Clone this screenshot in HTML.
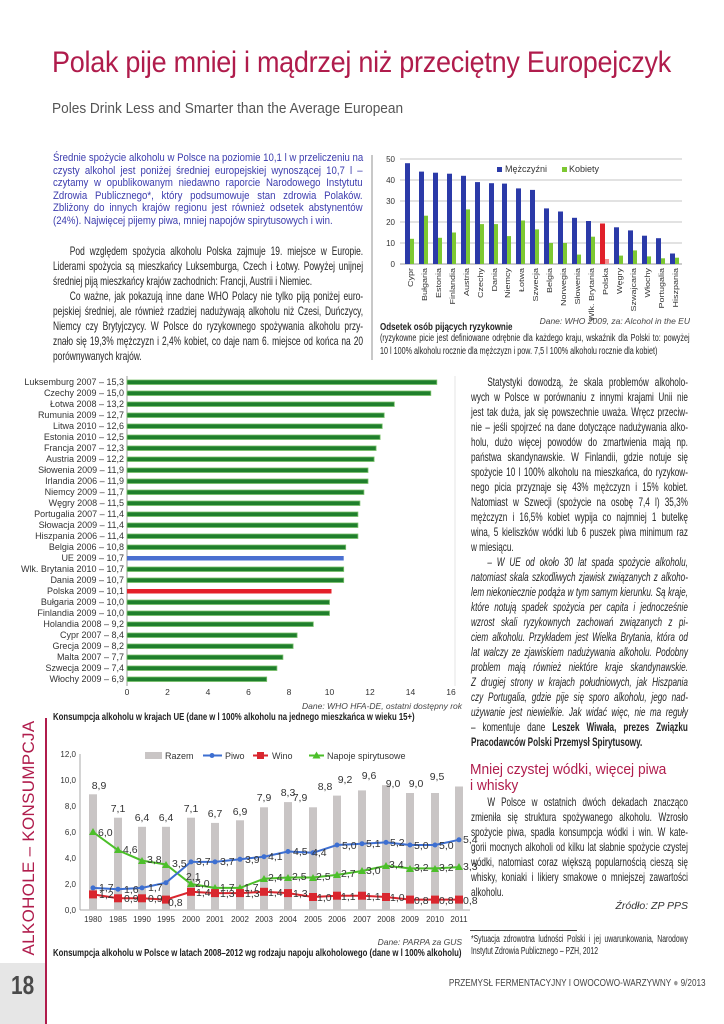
<!DOCTYPE html>
<html><head><meta charset="utf-8">
<style>
*{margin:0;padding:0}
body{width:724px;height:1024px;position:relative;background:#fff;overflow:hidden;font-family:"Liberation Sans",sans-serif}
.a{position:absolute}
.cb{position:absolute;transform-origin:0 0;transform:scaleX(.7);font:12px/15px "Liberation Sans",sans-serif;color:#252525}
.cb div{height:15px;text-align:justify;text-align-last:justify;white-space:nowrap}
.cb div.e{text-align-last:left}
.cb div.i{text-indent:24px}
.bl{position:absolute;transform-origin:0 0;transform:scaleX(.86);font:11.2px/12.6px "Liberation Sans",sans-serif;color:#3c3cae}
.bl div{height:12.6px;text-align:justify;text-align-last:justify;white-space:nowrap}
.bl div.e{text-align-last:left}
svg text{font-family:"Liberation Sans",sans-serif}
</style></head><body>

<div class="a" style="left:52px;top:46px;font-size:30px;color:#b01c4c;letter-spacing:-0.3px;white-space:nowrap;transform:scaleX(.9);transform-origin:0 0">Polak pije mniej i mądrzej niż przeciętny Europejczyk</div>
<div class="a" style="left:52px;top:100px;font-size:15px;color:#555;white-space:nowrap;transform:scaleX(.91);transform-origin:0 0">Poles Drink Less and Smarter than the Average European</div>

<div class="bl" style="left:53px;top:152px;width:360px">
<div>Średnie spożycie alkoholu w Polsce na poziomie 10,1 l w przeliczeniu na</div>
<div>czysty alkohol jest poniżej średniej europejskiej wynoszącej 10,7 l –</div>
<div>czytamy w opublikowanym niedawno raporcie Narodowego Instytutu</div>
<div>Zdrowia Publicznego*, który podsumowuje stan zdrowia Polaków.</div>
<div>Zbliżony do innych krajów regionu jest również odsetek abstynentów</div>
<div class="e">(24%). Najwięcej pijemy piwa, mniej napojów spirytusowych i win.</div>
</div>

<div class="cb" style="left:53px;top:244px;width:443px">
<div class="i">Pod względem spożycia alkoholu Polska zajmuje 19. miejsce w Europie.</div>
<div>Liderami spożycia są mieszkańcy Luksemburga, Czech i Łotwy. Powyżej unijnej</div>
<div class="e">średniej piją mieszkańcy krajów zachodnich: Francji, Austrii i Niemiec.</div>
<div class="i">Co ważne, jak pokazują inne dane WHO Polacy nie tylko piją poniżej euro-</div>
<div>pejskiej średniej, ale również rzadziej nadużywają alkoholu niż Czesi, Duńczycy,</div>
<div>Niemcy czy Brytyjczycy. W Polsce do ryzykownego spożywania alkoholu przy-</div>
<div>znało się 19,3% mężczyzn i 2,4% kobiet, co daje nam 6. miejsce od końca na 20</div>
<div class="e">porównywanych krajów.</div>
</div>

<div class="a" style="left:371px;top:155px;width:2px;height:205px;background:#c8c8c8"></div>

<div class="a" style="left:380px;top:322px;font:bold 10px 'Liberation Sans',sans-serif;transform:scaleX(.8);transform-origin:0 0;white-space:nowrap;color:#222">Odsetek osób pijących ryzykownie</div>
<div class="a" style="left:380px;top:316px;width:310px;text-align:right;font:italic 8.5px 'Liberation Sans',sans-serif;color:#444">Dane: WHO 2009, za: Alcohol in the EU</div>
<div class="cb" style="left:380px;top:333px;width:430px;font-size:10px;line-height:12.5px;transform:scaleX(.72)">
<div style="height:12.5px">(ryzykowne picie jest definiowane odrębnie dla każdego kraju, wskaźnik dla Polski to: powyżej</div>
<div class="e" style="height:12.5px">10 l 100% alkoholu rocznie dla mężczyzn i pow. 7,5 l 100% alkoholu rocznie dla kobiet)</div>
</div>

<div class="cb" style="left:471px;top:375px;width:319px;transform:scaleX(.68)">
<div class="i">Statystyki dowodzą, że skala problemów alkoholo-</div>
<div>wych w Polsce w porównaniu z innymi krajami Unii nie</div>
<div>jest tak duża, jak się powszechnie uważa. Wręcz przeciw-</div>
<div>nie – jeśli spojrzeć na dane dotyczące nadużywania alko-</div>
<div>holu, dużo więcej powodów do zmartwienia mają np.</div>
<div>państwa skandynawskie. W Finlandii, gdzie notuje się</div>
<div>spożycie 10 l 100% alkoholu na mieszkańca, do ryzykow-</div>
<div>nego picia przyznaje się 43% mężczyzn i 15% kobiet.</div>
<div>Natomiast w Szwecji (spożycie na osobę 7,4 l) 35,3%</div>
<div>mężczyzn i 16,5% kobiet wypija co najmniej 1 butelkę</div>
<div>wina, 5 kieliszków wódki lub 6 puszek piwa minimum raz</div>
<div class="e">w miesiącu.</div>
<div class="i" style="font-style:italic">– W UE od około 30 lat spada spożycie alkoholu,</div>
<div style="font-style:italic">natomiast skala szkodliwych zjawisk związanych z alkoho-</div>
<div style="font-style:italic">lem niekoniecznie podąża w tym samym kierunku. Są kraje,</div>
<div style="font-style:italic">które notują spadek spożycia per capita i jednocześnie</div>
<div style="font-style:italic">wzrost skali ryzykownych zachowań związanych z pi-</div>
<div style="font-style:italic">ciem alkoholu. Przykładem jest Wielka Brytania, która od</div>
<div style="font-style:italic">lat walczy ze zjawiskiem nadużywania alkoholu. Podobny</div>
<div style="font-style:italic">problem mają również niektóre kraje skandynawskie.</div>
<div style="font-style:italic">Z drugiej strony w krajach południowych, jak Hiszpania</div>
<div style="font-style:italic">czy Portugalia, gdzie pije się sporo alkoholu, jego nad-</div>
<div style="font-style:italic">używanie jest niewielkie. Jak widać więc, nie ma reguły</div>
<div>– komentuje dane <b>Leszek Wiwała, prezes Związku</b></div>
<div class="e"><b>Pracodawców Polski Przemysł Spirytusowy.</b></div>
</div>

<div class="a" style="left:470px;top:762px;font-size:15px;line-height:16px;color:#b01c4c;transform:scaleX(.92);transform-origin:0 0;white-space:nowrap">Mniej czystej wódki, więcej piwa<br>i whisky</div>

<div class="cb" style="left:471px;top:795px;width:319px;transform:scaleX(.68)">
<div class="i">W Polsce w ostatnich dwóch dekadach znacząco</div>
<div>zmieniła się struktura spożywanego alkoholu. Wzrosło</div>
<div>spożycie piwa, spadła konsumpcja wódki i win. W kate-</div>
<div>gorii mocnych alkoholi od kilku lat słabnie spożycie czystej</div>
<div>wódki, natomiast coraz większą popularnością cieszą się</div>
<div>whisky, koniaki i likiery smakowe o mniejszej zawartości</div>
<div class="e">alkoholu.</div>
</div>
<div class="a" style="left:470px;top:900px;width:218px;text-align:right;font:italic 10.5px 'Liberation Sans',sans-serif;color:#333">Źródło: ZP PPS</div>
<div class="a" style="left:470px;top:930px;width:107px;height:1px;background:#444"></div>
<div class="cb" style="left:471px;top:934px;width:319px;font-size:10px;line-height:12px;transform:scaleX(.68)">
<div style="height:12px">*Sytuacja zdrowotna ludności Polski i jej uwarunkowania, Narodowy</div>
<div class="e" style="height:12px">Instytut Zdrowia Publicznego – PZH, 2012</div>
</div>

<div class="a" style="left:300px;top:701px;width:162px;text-align:right;font:italic 8.5px 'Liberation Sans',sans-serif;color:#444;white-space:nowrap">Dane: WHO HFA-DE, ostatni dostępny rok</div>
<div class="a" style="left:53px;top:711px;font:bold 10.5px 'Liberation Sans',sans-serif;transform:scaleX(.74);transform-origin:0 0;white-space:nowrap;color:#222">Konsumpcja alkoholu w krajach UE (dane w l 100% alkoholu na jednego mieszkańca w wieku 15+)</div>
<div class="a" style="left:300px;top:937px;width:162px;text-align:right;font:italic 8.5px 'Liberation Sans',sans-serif;color:#444">Dane: PARPA za GUS</div>
<div class="a" style="left:53px;top:947px;font:bold 10.5px 'Liberation Sans',sans-serif;transform:scaleX(.74);transform-origin:0 0;white-space:nowrap;color:#222">Konsumpcja alkoholu w Polsce w latach 2008–2012 wg rodzaju napoju alkoholowego (dane w l 100% alkoholu)</div>

<div class="a" style="left:0;top:963px;width:45px;height:61px;background:#e6e6e6"></div>
<div class="a" style="left:45px;top:718px;width:2px;height:306px;background:#b01c4c"></div>
<div class="a" style="left:11px;top:970px;font:bold 26px 'Liberation Sans',sans-serif;color:#4a4a4a;transform:scaleX(.8);transform-origin:0 0">18</div>
<div class="a" style="left:29px;top:838px;transform:translate(-50%,-50%) rotate(-90deg);font-size:17px;color:#b01c4c;white-space:nowrap;letter-spacing:0.3px">ALKOHOLE – KONSUMPCJA</div>
<div class="a" style="left:380px;top:977px;width:313px;text-align:right;font-size:10.5px;color:#444;white-space:nowrap;transform:scaleX(.78);transform-origin:100% 0">PRZEMYSŁ FERMENTACYJNY I OWOCOWO-WARZYWNY <span style="color:#999">●</span> 9/2013</div>

<svg class="a" style="left:0;top:0" width="724" height="1024" viewBox="0 0 724 1024">
<g stroke="#c4c4c4" stroke-width="1">
<line x1="400" y1="159" x2="682" y2="159"/><line x1="400" y1="180" x2="682" y2="180"/><line x1="400" y1="201" x2="682" y2="201"/><line x1="400" y1="222" x2="682" y2="222"/><line x1="400" y1="243" x2="682" y2="243"/><line x1="400" y1="264" x2="682" y2="264" stroke="#999"/>
</g>
<g font-size="8" fill="#333" text-anchor="end">
<text x="395" y="162">50</text><text x="395" y="183">40</text><text x="395" y="204">30</text><text x="395" y="225">20</text><text x="395" y="246">10</text><text x="395" y="267">0</text>
</g>
<rect x="497" y="167" width="5" height="5" fill="#2b3aa8"/><text x="505" y="172" font-size="9" fill="#333">Mężczyźni</text>
<rect x="562" y="167" width="5" height="5" fill="#7dc832"/><text x="569" y="172" font-size="9" fill="#333">Kobiety</text>
<g fill="#2b3aa8">
<rect x="405" y="163.2" width="5" height="100.8"/><rect x="419" y="171.6" width="5" height="92.4"/><rect x="433" y="172.7" width="5" height="91.3"/><rect x="447" y="173.7" width="5" height="90.3"/><rect x="461" y="175.8" width="5" height="88.2"/><rect x="475" y="182.1" width="5" height="81.9"/><rect x="489" y="183.2" width="5" height="80.8"/><rect x="502" y="183.6" width="5" height="80.4"/><rect x="516" y="188.4" width="5" height="75.6"/><rect x="530" y="189.9" width="5" height="74.1"/><rect x="544" y="208.4" width="5" height="55.6"/><rect x="558" y="211.5" width="5" height="52.5"/><rect x="572" y="217.8" width="5" height="46.2"/><rect x="586" y="221" width="5" height="43"/><rect x="614" y="227.3" width="5" height="36.7"/><rect x="628" y="230.4" width="5" height="33.6"/><rect x="642" y="235.7" width="5" height="28.3"/><rect x="656" y="238.2" width="5" height="25.8"/><rect x="670" y="253.5" width="5" height="10.5"/>
</g>
<rect x="600" y="223.5" width="5" height="40.5" fill="#e0202a"/>
<g fill="#7dc832">
<rect x="410" y="238.8" width="4" height="25.2"/><rect x="424" y="215.7" width="4" height="48.3"/><rect x="438" y="237.8" width="4" height="26.2"/><rect x="452" y="232.5" width="4" height="31.5"/><rect x="466" y="209.4" width="4" height="54.6"/><rect x="480" y="224.1" width="4" height="39.9"/><rect x="494" y="224.1" width="4" height="39.9"/><rect x="507" y="236.1" width="4" height="27.9"/><rect x="521" y="220.5" width="4" height="43.5"/><rect x="535" y="229.4" width="4" height="34.6"/><rect x="549" y="243" width="4" height="21"/><rect x="563" y="243" width="4" height="21"/><rect x="577" y="254.6" width="4" height="9.4"/><rect x="591" y="236.7" width="4" height="27.3"/><rect x="619" y="255.6" width="4" height="8.4"/><rect x="633" y="250.4" width="4" height="13.6"/><rect x="647" y="256.4" width="4" height="7.6"/><rect x="661" y="258.3" width="4" height="5.7"/><rect x="675" y="257.7" width="4" height="6.3"/>
</g>
<rect x="605" y="259" width="4" height="5" fill="#f29090"/>
<g font-size="9" fill="#333" text-anchor="end">
<text transform="translate(413,268) rotate(-90) scale(1,.85)">Cypr</text>
<text transform="translate(427,268) rotate(-90) scale(1,.85)">Bułgaria</text>
<text transform="translate(441,268) rotate(-90) scale(1,.85)">Estonia</text>
<text transform="translate(455,268) rotate(-90) scale(1,.85)">Finlandia</text>
<text transform="translate(469,268) rotate(-90) scale(1,.85)">Austria</text>
<text transform="translate(483,268) rotate(-90) scale(1,.85)">Czechy</text>
<text transform="translate(497,268) rotate(-90) scale(1,.85)">Dania</text>
<text transform="translate(510,268) rotate(-90) scale(1,.85)">Niemcy</text>
<text transform="translate(524,268) rotate(-90) scale(1,.85)">Łotwa</text>
<text transform="translate(538,268) rotate(-90) scale(1,.85)">Szwecja</text>
<text transform="translate(552,268) rotate(-90) scale(1,.85)">Belgia</text>
<text transform="translate(566,268) rotate(-90) scale(1,.85)">Norwegia</text>
<text transform="translate(580,268) rotate(-90) scale(1,.85)">Słowenia</text>
<text transform="translate(594,268) rotate(-90) scale(1,.85)">Wlk. Brytania</text>
<text transform="translate(608,268) rotate(-90) scale(1,.85)">Polska</text>
<text transform="translate(622,268) rotate(-90) scale(1,.85)">Węgry</text>
<text transform="translate(636,268) rotate(-90) scale(1,.85)">Szwajcaria</text>
<text transform="translate(650,268) rotate(-90) scale(1,.85)">Włochy</text>
<text transform="translate(664,268) rotate(-90) scale(1,.85)">Portugalia</text>
<text transform="translate(678,268) rotate(-90) scale(1,.85)">Hiszpania</text>
</g>

<line x1="127" y1="376" x2="127" y2="686" stroke="#999"/>
<line x1="455" y1="376" x2="455" y2="686" stroke="#e4e4e4"/>
<g fill="#1f7f2c" stroke="#79c06a" stroke-width="0.8">
<rect x="127" y="380" width="309.8" height="4.5"/><rect x="127" y="391" width="303.8" height="4.5"/><rect x="127" y="402" width="267.3" height="4.5"/><rect x="127" y="413" width="257.2" height="4.5"/><rect x="127" y="424" width="255.2" height="4.5"/><rect x="127" y="435" width="253.1" height="4.5"/><rect x="127" y="446" width="249.1" height="4.5"/><rect x="127" y="457" width="247.1" height="4.5"/><rect x="127" y="468" width="241" height="4.5"/><rect x="127" y="479" width="241" height="4.5"/><rect x="127" y="490" width="236.9" height="4.5"/><rect x="127" y="501" width="232.9" height="4.5"/><rect x="127" y="512" width="230.9" height="4.5"/><rect x="127" y="523" width="230.9" height="4.5"/><rect x="127" y="534" width="230.9" height="4.5"/><rect x="127" y="545" width="218.7" height="4.5"/><rect x="127" y="567" width="216.7" height="4.5"/><rect x="127" y="578" width="216.7" height="4.5"/><rect x="127" y="600" width="202.5" height="4.5"/><rect x="127" y="611" width="202.5" height="4.5"/><rect x="127" y="622" width="186.3" height="4.5"/><rect x="127" y="633" width="170.1" height="4.5"/><rect x="127" y="644" width="166.1" height="4.5"/><rect x="127" y="655" width="155.9" height="4.5"/><rect x="127" y="666" width="149.9" height="4.5"/><rect x="127" y="677" width="139.7" height="4.5"/>
</g>
<rect x="127" y="556" width="216.7" height="4.5" fill="#4a6fd0"/>
<rect x="127" y="589" width="204.5" height="4.5" fill="#e4202a"/>
<g font-size="9" fill="#333" text-anchor="end">
<text x="124" y="385">Luksemburg 2007 – 15,3</text><text x="124" y="396">Czechy 2009 – 15,0</text><text x="124" y="407">Łotwa 2008 – 13,2</text><text x="124" y="418">Rumunia 2009 – 12,7</text><text x="124" y="429">Litwa 2010 – 12,6</text><text x="124" y="440">Estonia 2010 – 12,5</text><text x="124" y="451">Francja 2007 – 12,3</text><text x="124" y="462">Austria 2009 – 12,2</text><text x="124" y="473">Słowenia 2009 – 11,9</text><text x="124" y="484">Irlandia 2006 – 11,9</text><text x="124" y="495">Niemcy 2009 – 11,7</text><text x="124" y="506">Węgry 2008 – 11,5</text><text x="124" y="517">Portugalia 2007 – 11,4</text><text x="124" y="528">Słowacja 2009 – 11,4</text><text x="124" y="539">Hiszpania 2006 – 11,4</text><text x="124" y="550">Belgia 2006 – 10,8</text><text x="124" y="561">UE 2009 – 10,7</text><text x="124" y="572">Wlk. Brytania 2010 – 10,7</text><text x="124" y="583">Dania 2009 – 10,7</text><text x="124" y="594">Polska 2009 – 10,1</text><text x="124" y="605">Bułgaria 2009 – 10,0</text><text x="124" y="616">Finlandia 2009 – 10,0</text><text x="124" y="627">Holandia 2008 – 9,2</text><text x="124" y="638">Cypr 2007 – 8,4</text><text x="124" y="649">Grecja 2009 – 8,2</text><text x="124" y="660">Malta 2007 – 7,7</text><text x="124" y="671">Szwecja 2009 – 7,4</text><text x="124" y="682">Włochy 2009 – 6,9</text>
</g>
<g font-size="8.5" fill="#333" text-anchor="middle">
<text x="127" y="695">0</text><text x="167.5" y="695">2</text><text x="208" y="695">4</text><text x="248.5" y="695">6</text><text x="289" y="695">8</text><text x="329.5" y="695">10</text><text x="370" y="695">12</text><text x="410.5" y="695">14</text><text x="451" y="695">16</text>
</g>

<line x1="80" y1="754" x2="80" y2="910" stroke="#aaa"/>
<line x1="80" y1="910" x2="470" y2="910" stroke="#aaa"/>
<g font-size="8" fill="#333" text-anchor="end">
<text x="76" y="757">12,0</text><text x="76" y="783">10,0</text><text x="76" y="809">8,0</text><text x="76" y="835">6,0</text><text x="76" y="861">4,0</text><text x="76" y="887">2,0</text><text x="76" y="913">0,0</text>
</g>
<g fill="#c9c5c5">
<rect x="89" y="794.3" width="8" height="115.7"/><rect x="114" y="817.7" width="8" height="92.3"/><rect x="138" y="826.8" width="8" height="83.2"/><rect x="162" y="826.8" width="8" height="83.2"/><rect x="187" y="817.7" width="8" height="92.3"/><rect x="211" y="822.9" width="8" height="87.1"/><rect x="236" y="820.3" width="8" height="89.7"/><rect x="260" y="807.3" width="8" height="102.7"/><rect x="284" y="802.1" width="8" height="107.9"/><rect x="309" y="807.3" width="8" height="102.7"/><rect x="333" y="795.6" width="8" height="114.4"/><rect x="358" y="790.4" width="8" height="119.6"/><rect x="382" y="785.2" width="8" height="124.8"/><rect x="406" y="793" width="8" height="117"/><rect x="431" y="793" width="8" height="117"/><rect x="455" y="786.5" width="8" height="123.5"/>
</g>
<g font-size="10.5" fill="#333" text-anchor="middle">
<text x="99" y="789">8,9</text><text x="118" y="812">7,1</text><text x="142" y="821">6,4</text><text x="166" y="821">6,4</text><text x="191" y="812">7,1</text><text x="215" y="817">6,7</text><text x="240" y="815">6,9</text><text x="264" y="801">7,9</text><text x="288" y="796">8,3</text><text x="300" y="801">7,9</text><text x="325" y="790">8,8</text><text x="345" y="783">9,2</text><text x="369" y="779">9,6</text><text x="393" y="787">9,0</text><text x="416" y="787">9,0</text><text x="437" y="780">9,5</text>
</g>
<rect x="145" y="752" width="17" height="7" fill="#c9c5c5"/><text x="165" y="759" font-size="9" fill="#333">Razem</text>
<line x1="203" y1="755.5" x2="222" y2="755.5" stroke="#3d6fd1" stroke-width="2"/><circle cx="212" cy="755.5" r="2.5" fill="#3d6fd1"/><text x="225" y="759" font-size="9" fill="#333">Piwo</text>
<line x1="253" y1="755.5" x2="268" y2="755.5" stroke="#d9262e" stroke-width="2"/><rect x="257" y="752" width="7" height="7" fill="#d9262e"/><text x="272" y="759" font-size="9" fill="#333">Wino</text>
<line x1="309" y1="755.5" x2="324" y2="755.5" stroke="#4cbf2a" stroke-width="2"/><polygon points="316.5,751.5 320.5,758.5 312.5,758.5" fill="#4cbf2a"/><text x="327" y="759" font-size="9" fill="#333">Napoje spirytusowe</text>
<polyline fill="none" stroke="#4cbf2a" stroke-width="2" points="93,832 118,850.2 142,860.6 166,864.5 191,884 215,887.9 240,887.9 264,878.8 288,877.5 313,877.5 337,874.9 362,871 386,865.8 410,868.4 435,868.4 459,867.1"/>
<polyline fill="none" stroke="#3d6fd1" stroke-width="2" points="93,887.9 118,889.2 142,887.9 166,882.7 191,861.9 215,861.9 240,859.3 264,856.7 288,851.5 313,852.8 337,845 362,843.7 386,842.4 410,845 435,845 459,839.8"/>
<polyline fill="none" stroke="#d9262e" stroke-width="2" points="93,894.4 118,898.3 142,898.3 166,899.6 191,891.8 215,893.1 240,893.1 264,891.8 288,893.1 313,897 337,895.7 362,895.7 386,897 410,899.6 435,899.6 459,899.6"/>
<g fill="#4cbf2a">
<polygon points="93,828 97,835 89,835"/><polygon points="118,846 122,853 114,853"/><polygon points="142,857 146,864 138,864"/><polygon points="166,861 170,868 162,868"/><polygon points="191,880 195,887 187,887"/><polygon points="215,884 219,891 211,891"/><polygon points="240,884 244,891 236,891"/><polygon points="264,875 268,882 260,882"/><polygon points="288,874 292,881 284,881"/><polygon points="313,874 317,881 309,881"/><polygon points="337,871 341,878 333,878"/><polygon points="362,867 366,874 358,874"/><polygon points="386,862 390,869 382,869"/><polygon points="410,865 414,872 406,872"/><polygon points="435,865 439,872 431,872"/><polygon points="459,863 463,870 455,870"/>
</g>
<g fill="#3d6fd1">
<circle cx="93" cy="887.9" r="2.5"/><circle cx="118" cy="889.2" r="2.5"/><circle cx="142" cy="887.9" r="2.5"/><circle cx="166" cy="882.7" r="2.5"/><circle cx="191" cy="861.9" r="2.5"/><circle cx="215" cy="861.9" r="2.5"/><circle cx="240" cy="859.3" r="2.5"/><circle cx="264" cy="856.7" r="2.5"/><circle cx="288" cy="851.5" r="2.5"/><circle cx="313" cy="852.8" r="2.5"/><circle cx="337" cy="845" r="2.5"/><circle cx="362" cy="843.7" r="2.5"/><circle cx="386" cy="842.4" r="2.5"/><circle cx="410" cy="845" r="2.5"/><circle cx="435" cy="845" r="2.5"/><circle cx="459" cy="839.8" r="2.5"/>
</g>
<g fill="#d9262e">
<rect x="89" y="890.4" width="8" height="8"/><rect x="114" y="894.3" width="8" height="8"/><rect x="138" y="894.3" width="8" height="8"/><rect x="162" y="895.6" width="8" height="8"/><rect x="187" y="887.8" width="8" height="8"/><rect x="211" y="889.1" width="8" height="8"/><rect x="236" y="889.1" width="8" height="8"/><rect x="260" y="887.8" width="8" height="8"/><rect x="284" y="889.1" width="8" height="8"/><rect x="309" y="893" width="8" height="8"/><rect x="333" y="891.7" width="8" height="8"/><rect x="358" y="891.7" width="8" height="8"/><rect x="382" y="893" width="8" height="8"/><rect x="406" y="895.6" width="8" height="8"/><rect x="431" y="895.6" width="8" height="8"/><rect x="455" y="895.6" width="8" height="8"/>
</g>
<g font-size="10.5" fill="#333">
<text x="98" y="836">6,0</text><text x="123" y="853">4,6</text><text x="147" y="863">3,8</text><text x="172" y="867">3,5</text><text x="186" y="880">2,1</text><text x="195" y="887">2,0</text><text x="220" y="891">1,7</text><text x="244" y="891">1,7</text><text x="268" y="881">2,4</text><text x="292" y="880">2,5</text><text x="316" y="880">2,5</text><text x="341" y="877">2,7</text><text x="366" y="874">3,0</text><text x="389" y="868">3,4</text><text x="414" y="871">3,2</text><text x="439" y="871">3,2</text><text x="463" y="870">3,3</text>
<text x="99" y="891">1,7</text><text x="124" y="893">1,6</text><text x="148" y="891">1,7</text><text x="196" y="865">3,7</text><text x="220" y="865">3,7</text><text x="245" y="863">3,9</text><text x="268" y="860">4,1</text><text x="293" y="855">4,5</text><text x="312" y="856">4,4</text><text x="342" y="849">5,0</text><text x="366" y="847">5,1</text><text x="390" y="846">5,2</text><text x="414" y="849">5,0</text><text x="439" y="849">5,0</text><text x="463" y="843">5,4</text>
<text x="99" y="898">1,2</text><text x="124" y="902">0,9</text><text x="148" y="902">0,9</text><text x="168" y="906">0,8</text><text x="196" y="896">1,4</text><text x="220" y="897">1,3</text><text x="245" y="897">1,3</text><text x="268" y="896">1,4</text><text x="293" y="897">1,3</text><text x="317" y="901">1,0</text><text x="341" y="900">1,1</text><text x="366" y="900">1,1</text><text x="390" y="901">1,0</text><text x="414" y="904">0,8</text><text x="439" y="904">0,8</text><text x="463" y="904">0,8</text>
</g>
<g font-size="8" fill="#333" text-anchor="middle">
<text x="93" y="922">1980</text><text x="118" y="922">1985</text><text x="142" y="922">1990</text><text x="166" y="922">1995</text><text x="191" y="922">2000</text><text x="215" y="922">2001</text><text x="240" y="922">2002</text><text x="264" y="922">2003</text><text x="288" y="922">2004</text><text x="313" y="922">2005</text><text x="337" y="922">2006</text><text x="362" y="922">2007</text><text x="386" y="922">2008</text><text x="410" y="922">2009</text><text x="435" y="922">2010</text><text x="459" y="922">2011</text>
</g>
</svg>
</body></html>
